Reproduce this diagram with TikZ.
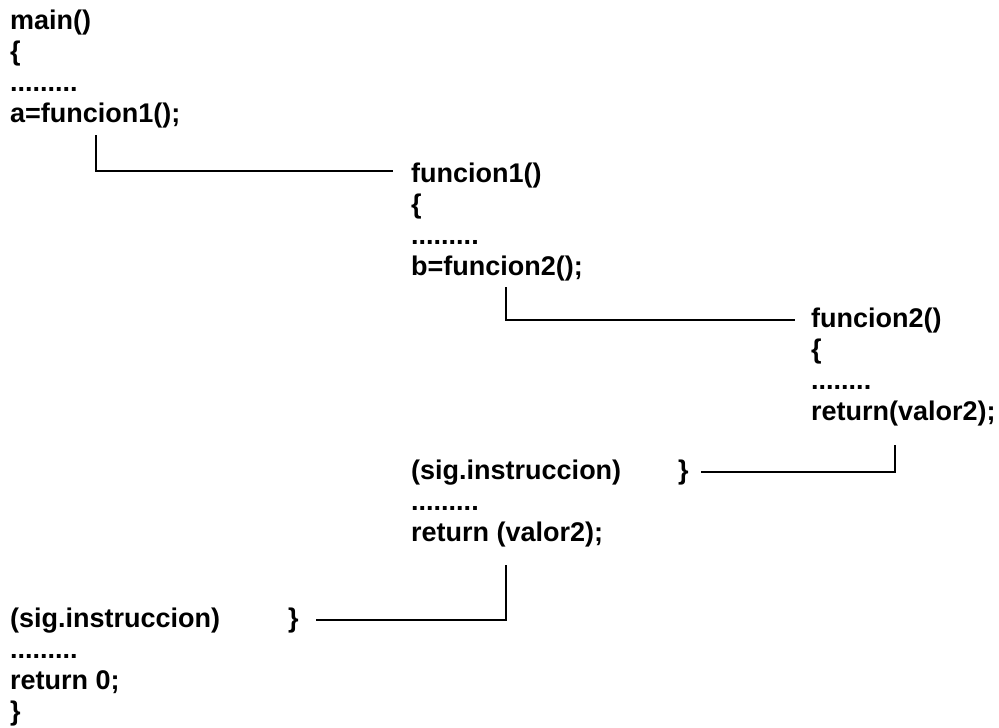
\documentclass[tikz,border=0pt]{standalone}
\usepackage{fontspec}
\setmainfont{Liberation Sans}
\tikzstyle{code} = [anchor=base west, inner sep=0pt, font=\fontsize{27}{31}\selectfont\bfseries]
\tikzstyle{link} = [line width=1.4pt]

\begin{document}
\begin{tikzpicture}[x=1pt, y=-1pt]
        \useasboundingbox (0,0) rectangle (999,728);
        % main
        \node (main) [code] at (10,29) {main()};
        \node (mainopen) [code] at (10,60) {\{};
        \node (maindots) [code] at (10,91) {.........};
        \node (calla) [code] at (10,122) {a=funcion1();};

        % funcion1
        \node (funa) [code] at (411,182) {funcion1()};
        \node (funaopen) [code] at (411,213) {\{};
        \node (funadots) [code] at (411,244) {.........};
        \node (callb) [code] at (411,275) {b=funcion2();};

        % funcion2
        \node (funb) [code] at (811,327) {funcion2()};
        \node (funbopen) [code] at (811,358) {\{};
        \node (funbdots) [code] at (811,389) {........};
        \node (retb) [code] at (811,420) {return(valor2);};

        % back in funcion1
        \node (nexta) [code] at (411,479) {(sig.instruccion)};
        \node (funaclose) [code] at (678,479) {\}};
        \node (nextadots) [code] at (411,510) {.........};
        \node (reta) [code] at (411,541) {return (valor2);};

        % back in main
        \node (nextm) [code] at (10,627) {(sig.instruccion)};
        \node (mainclose2) [code] at (288,627) {\}};
        \node (nextmdots) [code] at (10,658) {.........};
        \node (retm) [code] at (10,689) {return 0;};
        \node (mainclose) [code] at (10,720) {\}};

        % Lines
        \draw [link] (calla.base west) ++(86,13) |- ([xshift=-18pt,yshift=4pt]funa.west);
        \draw [link] (callb.base west) ++(95,12) |- ([xshift=-16pt]funb.west);
        \draw [link] (retb.base west) ++(84,25) |- ([xshift=12pt]funaclose.east);
        \draw [link] (reta.base west) ++(95,24) |- ([xshift=17pt]mainclose2.east);

    \end{tikzpicture}
\end{document}
